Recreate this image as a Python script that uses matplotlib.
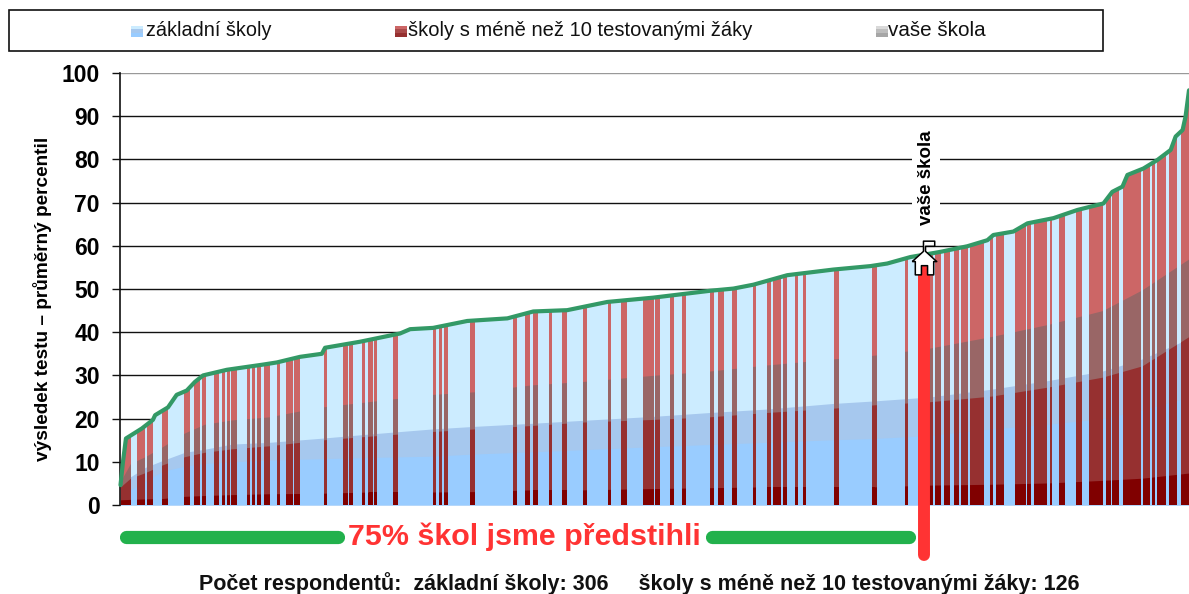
import matplotlib
matplotlib.use('Agg')
import matplotlib.pyplot as plt
import numpy as np
from matplotlib.patches import Rectangle
from matplotlib.path import Path
from matplotlib.transforms import Affine2D

plt.rcParams['font.family'] = ['Liberation Sans', 'DejaVu Sans']

# schools sorted by result, 306 + 126 of them
n_schools = 432
your_school = 324.8
your_top = 57.0

top_rank = [0, 1, 2.2, 8.6, 13.1, 14, 19.2, 22.7, 26.8, 30.1, 33.4, 43, 57.6, 63.2, 72.6, 81.4,
            82.7, 96.9, 113, 117.1, 126.4, 140.2, 156.4, 166.9, 180.6, 196.8, 215.4, 238.5,
            247.8, 255.9, 269.6, 288.2, 303.2, 310, 319.4, 331.5, 342.4, 350.5, 352.9, 361,
            366.7, 377.2, 386.9, 397.4, 401, 405.1, 407.1, 413.6, 419.3, 424.6, 426.6, 429.4,
            430.6, 432]
top_value = [4.6, 10, 15.4, 17.7, 19.7, 20.8, 22.6, 25.5, 26.5, 28.5, 30, 31.3, 32.5, 33, 34.3, 35,
             36.4, 37.8, 39.7, 40.7, 41, 42.6, 43.2, 44.8, 45.1, 47, 48, 49.6,
             50.1, 51, 53.2, 54.5, 55.3, 55.9, 57.4, 58.6, 59.9, 61.3, 62.5, 63.3,
             65.2, 66.4, 68.3, 69.8, 72.5, 73.7, 76.4, 77.9, 79.9, 82.2, 85.3, 86.8,
             89.9, 96]

band_rank = [0, 4, 10, 17, 26, 34, 45, 60, 80, 100, 126, 143, 166, 187, 215, 238, 261, 288, 305,
             327, 352, 375, 397, 413, 432]
blue_low = [1.5, 3.5, 5.5, 7.8, 9, 9.6, 10, 10.4, 10.7, 11, 11.3, 11.8, 12.3, 12.8, 13.5, 14, 14.5,
            15.1, 15.4, 16.1, 17.6, 18.7, 20, 22, 25]
blue_mid = [3.5, 6.5, 8.7, 10.3, 12.2, 12.9, 14.1, 14.5, 15.4, 16.4, 17.6, 18.2, 18.9, 19.6, 20.5,
            21.4, 22.2, 23.5, 24.1, 25, 26.8, 28.8, 31, 33.8, 38.5]
red_low = [1.2, 1.3, 1.4, 1.5, 2, 2.2, 2.4, 2.6, 2.7, 3, 3, 3.1, 3.5, 3.5, 3.8, 4, 4.2, 4.2, 4.2,
           4.6, 4.8, 5.1, 5.7, 6.2, 7.4]
red_mid = [4.2, 6.2, 7.5, 9.3, 11.2, 12.2, 13, 13.7, 15, 15.9, 17, 17.6, 18.4, 19.2, 19.8, 20.4,
           21.4, 22.4, 23.2, 23.9, 25.2, 27.3, 29.6, 32.2, 39]
red_high = [5.5, 9.6, 11.2, 13.5, 16.7, 18.7, 19.7, 20.4, 22.6, 23.9, 25.6, 26.2, 27.8, 28.6, 30,
            31, 32.4, 33.8, 34.7, 36.3, 39, 41.8, 45, 49.8, 57]

# runs of schools with fewer than 10 tested pupils
red_start = [0.0, 6.8, 10.6, 16.9, 25.8, 29.7, 32.8, 37.8, 40.9, 43.0, 44.8, 51.2, 53.2, 55.1, 58.2,
             63.2, 66.9, 70.3, 82.2, 89.9, 92.4, 97.6, 100.1, 102.6, 110.2, 126.4, 128.7, 130.6,
             141.3, 158.5, 163.6, 166.8, 173.1, 178.7, 187.0, 197.2, 202.2, 211.1, 216.2, 222.0,
             227.0, 238.5, 241.6, 247.2, 255.6, 261.4, 263.8, 267.7, 272.7, 276.0, 288.6, 303.7,
             317.1, 322.3, 327.2, 329.2, 333.0, 337.0, 340.0, 343.4, 351.5, 354.1, 361.6, 366.7,
             369.3, 375.6, 379.4, 386.2, 391.4, 398.4, 401.0, 405.4, 413.2, 416.9, 418.9, 423.8,
             428.7]
red_end = [4.1, 9.8, 13.0, 19.3, 28.2, 32.2, 34.7, 39.7, 42.3, 44.3, 47.2, 52.5, 54.4, 57.0, 60.6,
           64.5, 69.6, 72.7, 83.5, 91.9, 93.8, 98.8, 102.0, 103.9, 112.0, 127.7, 130.1, 132.5,
           143.2, 160.4, 165.4, 168.6, 174.5, 180.6, 188.8, 198.5, 204.7, 215.5, 218.1, 223.9,
           228.8, 239.8, 244.1, 249.1, 257.0, 263.2, 267.0, 269.6, 274.0, 277.2, 290.5, 305.7,
           318.5, 327.2, 328.6, 331.6, 335.5, 338.9, 342.5, 349.0, 352.7, 357.2, 366.0, 368.1,
           374.4, 376.8, 381.9, 388.8, 397.2, 400.3, 403.5, 412.5, 416.4, 418.3, 422.6, 427.2,
           432.0]

y_ticks = [0, 10, 20, 30, 40, 50, 60, 70, 80, 90, 100]
legend_labels = ['základní školy', 'školy s méně než 10 testovanými žáky', 'vaše škola']
legend_sizes = [14.3, 14.5, 14.9]
footer = 'Počet respondentů:  základní školy: 306     školy s méně než 10 testovanými žáky: 126'

blue_colors = ['#CCECFF', '#A6C8EE', '#99CCFF']
red_colors = ['#CC6666', '#996666', '#963030', '#800000']
grey_colors = ['#D9D9D9', '#BDBDBD', '#A6A6A6']


def fill_layers(ax, bands, colors, clip=None):
    """Paint from the top curve down, each layer reaching to zero so no seams show."""
    xs = np.concatenate([top_rank, [n_schools, 0]])
    ys = np.concatenate([top_value, [0, 0]])
    items = list(ax.fill(xs, ys, color=colors[0], lw=0, zorder=2))
    for band, color in zip(bands, colors[1:]):
        items.append(ax.fill_between(band_rank, 0, band, color=color, lw=0, zorder=2))
    if clip is not None:
        for item in items:
            item.set_clip_path(clip, ax.transData)


fig = plt.figure(figsize=(11.89, 5.94), dpi=100)
ax = fig.add_axes([120.5 / 1189, 89 / 594, 1068.5 / 1189, 432 / 594])
ax.set_xlim(0, n_schools)
ax.set_ylim(0, 100)

fill_layers(ax, [blue_mid, blue_low], blue_colors)

red_boxes = [Path.unit_rectangle().transformed(Affine2D().scale(e - s, 110).translate(s, 0))
             for s, e in zip(red_start, red_end)]
red_clip = Path.make_compound_path(*red_boxes)
fill_layers(ax, [red_high, red_mid, red_low], red_colors, clip=red_clip)

ax.plot(top_rank, top_value, color='#339966', lw=3, zorder=4, clip_on=False, solid_capstyle='round')

ax.set_yticks(y_ticks)
ax.set_xticks([])
ax.tick_params(axis='y', length=6, width=1, labelsize=16.5, pad=9, color='#111111')
for lab in ax.get_yticklabels():
    lab.set_fontweight('bold')
ax.grid(axis='y', color='#111111', lw=1, zorder=1)
ax.set_axisbelow(True)
for gl in ax.get_ygridlines()[-1:]:
    gl.set_color('#999999')
for side in ['top', 'right', 'bottom']:
    ax.spines[side].set_visible(False)
ax.spines['left'].set_color('#111111')
ax.spines['left'].set_linewidth(1.2)
ax.set_ylabel('výsledek testu – průměrný percentil', fontsize=13.7, fontweight='bold')
ax.yaxis.set_label_coords(-68 / 1068.5, 0.476)

# your school: red pointer, house and label
ax.plot([your_school, your_school], [-11.5, 54], color='#FF3333', lw=8.6, zorder=5, clip_on=False,
        solid_capstyle='round')
house = Path([(-12, -4), (-1, 6), (-1, 16), (10, 16), (10, 11), (1, 11), (1, 6), (12, -4), (9, -4),
              (9, -17), (3, -17), (3, -8), (-3, -8), (-3, -17), (-9, -17), (-9, -4), (-12, -4)])
ax.plot([your_school], [your_top + 0.5], marker=house, ms=25, mfc='white', mec='black', mew=1.1,
        zorder=6, clip_on=False, ls='none')
ax.text(your_school + 1.0, 75.8, 'vaše škola', rotation=90, ha='center', va='center', fontsize=13.5,
        fontweight='bold', zorder=6,
        bbox=dict(facecolor='white', edgecolor='none', pad=4))

# 75 % strip under the axis
ax.plot([2.4, 87.8], [-7.4, -7.4], color='#22B14C', lw=9.5, zorder=5, clip_on=False, solid_capstyle='round')
ax.plot([239, 318.6], [-7.4, -7.4], color='#22B14C', lw=9.5, zorder=5, clip_on=False, solid_capstyle='round')
ax.text(163.2, -7.4, '75% škol jsme předstihli', color='#FF3333', ha='center', va='center',
        fontsize=21.9, fontweight='bold', clip_on=False)

# page-level items in pixel coordinates
page = fig.add_axes([0, 0, 1, 1], facecolor='none')
page.set_xlim(0, 1189)
page.set_ylim(594, 0)
page.axis('off')
page.add_patch(Rectangle((9, 10), 1094, 41, fc='white', ec='#111111', lw=1.2))


def legend_swatch(x, colors):
    heights = [3, 4, 4]
    y = 26
    for color, h in zip(colors, heights):
        page.add_patch(Rectangle((x, y), 12, h, fc=color, ec='none'))
        y += h


legend_swatch(131, blue_colors)
legend_swatch(395, ['#CC6666', '#A94A4A', '#963030'])
legend_swatch(876, grey_colors)
for x, label, size in zip([146, 408, 888], legend_labels, legend_sizes):
    page.text(x, 31, label, fontsize=size, va='center', ha='left', color='#111111')
page.text(199, 584, footer, fontsize=15.5, fontweight='bold', va='center', ha='left', color='#111111')

fig.savefig('out.png', dpi=100)
